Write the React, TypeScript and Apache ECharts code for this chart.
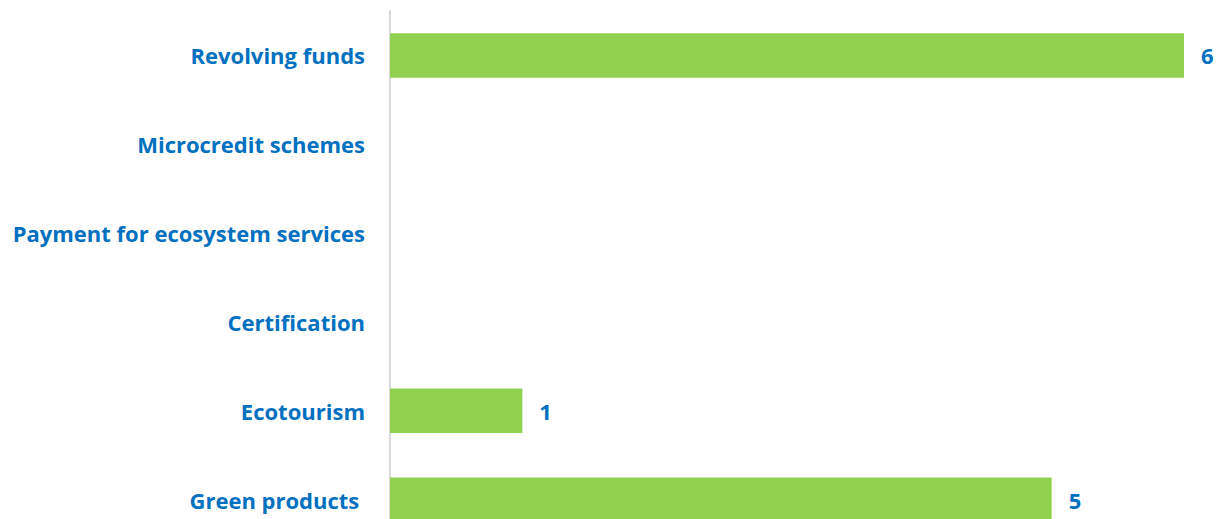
import React, { useEffect, useRef } from "react";
import * as echarts from "echarts";

const categories = [
  "Revolving funds",
  "Microcredit schemes",
  "Payment for ecosystem services",
  "Certification",
  "Ecotourism",
  "Green products ",
];
const values = [6, 0, 0, 0, 1, 5];

export default function App() {
  const ref = useRef<HTMLDivElement>(null);
  useEffect(() => {
    document.body.style.margin = "0";
    const chart = echarts.init(ref.current!, null, { renderer: "svg" });
    const font = "'Open Sans', sans-serif";
    chart.setOption({
      animation: false,
      grid: { left: 390, width: 794, top: 11, height: 533 },
      xAxis: {
        type: "value",
        min: 0,
        max: 6,
        show: false,
      },
      yAxis: {
        type: "category",
        inverse: true,
        data: categories,
        axisLine: { show: true, lineStyle: { color: "#D9D9D9", width: 2 } },
        axisTick: { show: false },
        axisLabel: {
          color: "#0070C0",
          fontWeight: "bold",
          fontSize: 22,
          fontFamily: font,
          margin: 25,
        },
      },
      series: [
        {
          type: "bar",
          data: values.map((v) => (v === 0 ? null : v)),
          barCategoryGap: "50%",
          itemStyle: { color: "#92D050" },
          label: {
            show: true,
            position: "right",
            distance: 17,
            color: "#0070C0",
            fontWeight: "bold",
            fontSize: 22,
            fontFamily: font,
          },
        },
      ],
    });
    return () => chart.dispose();
  }, []);
  return <div ref={ref} style={{ width: 1222, height: 560 }} />;
}
